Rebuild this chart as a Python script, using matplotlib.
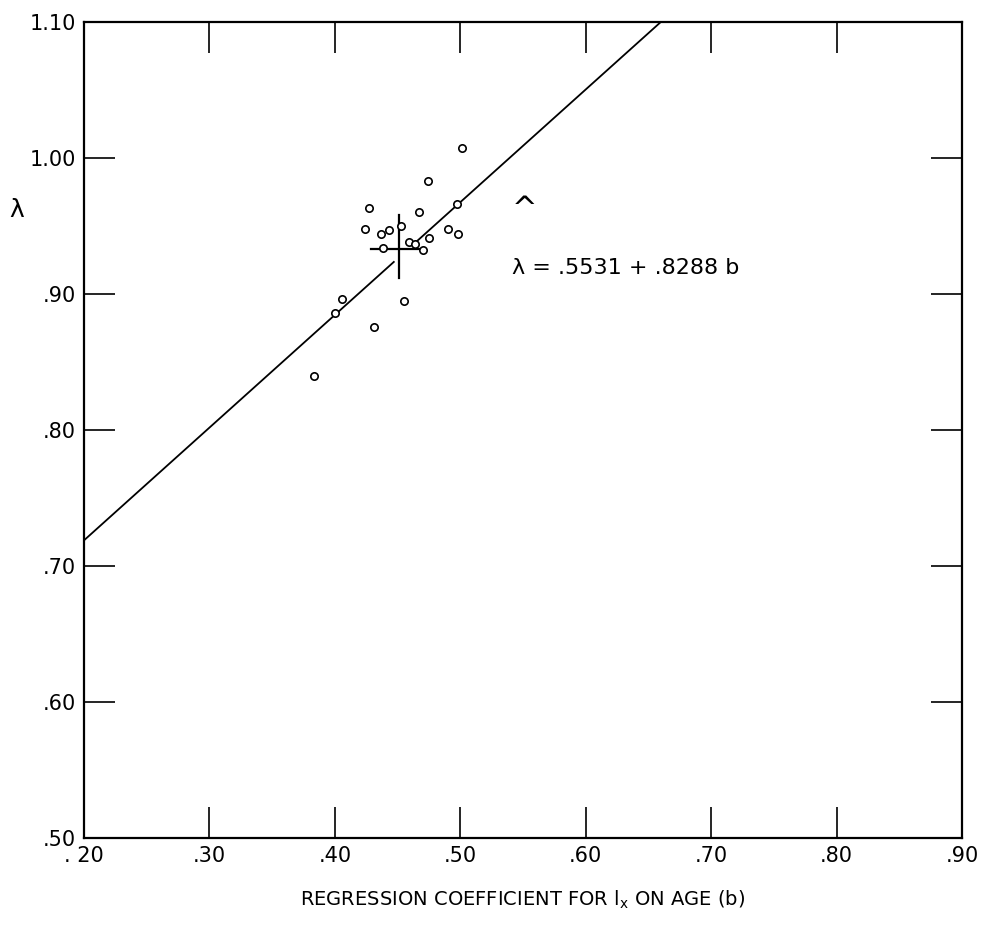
import numpy as np
import matplotlib.pyplot as plt

b_vals = [0.383, 0.400, 0.406, 0.431, 0.455, 0.424, 0.427, 0.437, 0.438, 0.443,
          0.453, 0.459, 0.464, 0.467, 0.470, 0.474, 0.475, 0.490, 0.497, 0.498, 0.501]
lam_vals = [0.840, 0.886, 0.896, 0.876, 0.895, 0.948, 0.963, 0.944, 0.934, 0.947,
            0.950, 0.938, 0.937, 0.960, 0.932, 0.983, 0.941, 0.948, 0.966, 0.944, 1.007]

# fitted line lambda = a + c*b
a_fit = 0.5531
c_fit = 0.8288

# mean cross
mean_b = 0.451
mean_lam = 0.933
cross_b = [0.429, 0.467]
cross_lam = [0.912, 0.958]

x_ticks = [0.20, 0.30, 0.40, 0.50, 0.60, 0.70, 0.80, 0.90]
x_labels = ['. 20', '.30', '.40', '.50', '.60', '.70', '.80', '.90']
y_ticks = [0.50, 0.60, 0.70, 0.80, 0.90, 1.00, 1.10]
y_labels = ['.50', '.60', '.70', '.80', '.90', '1.00', '1.10']


def main():
    fig = plt.figure(figsize=(9.88, 9.35), dpi=100)
    ax = fig.add_axes([84 / 988, 1 - 838 / 935, (962 - 84) / 988, (838 - 22) / 935])

    # regression line, broken where it crosses the mean marker
    b_end = (1.10 - a_fit) / c_fit
    seg1 = np.array([0.20, 0.447])
    seg2 = np.array([0.463, b_end])
    ax.plot(seg1, a_fit + c_fit * seg1, color='black', lw=1.3)
    ax.plot(seg2, a_fit + c_fit * seg2, color='black', lw=1.3)

    ax.scatter(b_vals, lam_vals, s=28, facecolors='white', edgecolors='black',
               linewidths=1.2, zorder=3)

    ax.plot(cross_b, [mean_lam, mean_lam], color='black', lw=1.6)
    ax.plot([mean_b, mean_b], cross_lam, color='black', lw=1.6)

    ax.set_xlim(0.20, 0.90)
    ax.set_ylim(0.50, 1.10)
    ax.set_xticks(x_ticks)
    ax.set_xticklabels(x_labels)
    ax.set_yticks(y_ticks)
    ax.set_yticklabels(y_labels)
    ax.tick_params(direction='in', length=22, width=1.2, top=True, right=True,
                   labelsize=15, pad=6)
    for sp in ax.spines.values():
        sp.set_linewidth(1.6)

    ax.set_xlabel('REGRESSION COEFFICIENT FOR l$_\\mathregular{x}$ ON AGE (b)',
                  fontsize=14, labelpad=16)
    ax.text(-0.085, 0.77, 'λ', transform=ax.transAxes, fontsize=18,
            ha='left', va='center')

    ax.text(0.541, 0.962, '^', fontsize=22, ha='left', va='center')
    ax.text(0.541, 0.919, 'λ = .5531 + .8288 b', fontsize=16, ha='left', va='center')

    fig.savefig('out.png', dpi=100)


if __name__ == '__main__':
    main()
